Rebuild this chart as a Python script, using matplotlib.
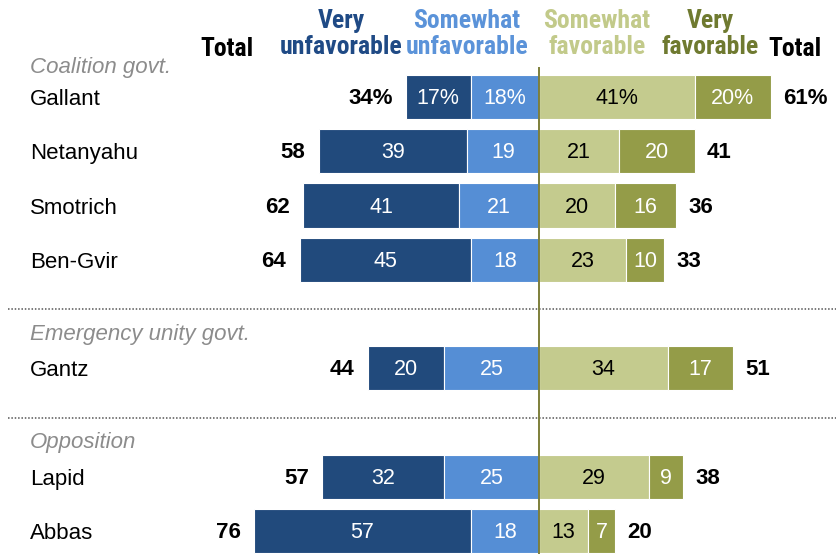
import matplotlib
matplotlib.use('Agg')
import matplotlib.pyplot as plt

# favorability of Israeli leaders, percent
names = ['Gallant', 'Netanyahu', 'Smotrich', 'Ben-Gvir', 'Gantz', 'Lapid', 'Abbas']
row_pos = [0, 1, 2, 3, 5, 7, 8]
very_unfav = [17, 39, 41, 45, 20, 32, 57]
some_unfav = [18, 19, 21, 18, 25, 25, 18]
some_fav = [41, 21, 20, 23, 34, 29, 13]
very_fav = [20, 20, 16, 10, 17, 9, 7]
total_unfav = [34, 58, 62, 64, 44, 57, 76]
total_fav = [61, 41, 36, 33, 51, 38, 20]

groups = ['Coalition govt.', 'Emergency unity govt.', 'Opposition']
group_pos = [-0.55, 4.38, 6.37]
divider_pos = [3.9, 5.92]

headers = ['Very\nunfavorable', 'Somewhat\nunfavorable', 'Somewhat\nfavorable', 'Very\nfavorable']
header_x = [-52, -19, 15.2, 45]

c_vu = '#214a7c'
c_su = '#558ed5'
c_sf = '#c4cb8e'
c_vf = '#949c48'
head_cols = ['#1f4a85', '#5b93d9', '#c2ca8a', '#6f7a30']

FONT = ['Liberation Sans', 'DejaVu Sans']
HEAD = ['Roboto Condensed', 'Liberation Sans', 'DejaVu Sans']

fig = plt.figure(figsize=(8.37, 5.54), dpi=100)
ax = fig.add_axes([0, 0, 1, 1])
px = 3.8  # pixels per percentage point
ax.set_xlim(-539 / px, (837 - 539) / px)
ax.set_ylim((554 - 97) / 54.25, -97 / 54.25)
ax.axis('off')

h = 0.82
for i, y in enumerate(row_pos):
    vu, su, sf, vf = very_unfav[i], some_unfav[i], some_fav[i], very_fav[i]
    ax.barh(y, -vu, left=-su, height=h, color=c_vu, edgecolor='white', linewidth=0.8)
    ax.barh(y, -su, left=0, height=h, color=c_su, edgecolor='white', linewidth=0.8)
    ax.barh(y, sf, left=0, height=h, color=c_sf, edgecolor='white', linewidth=0.8)
    ax.barh(y, vf, left=sf, height=h, color=c_vf, edgecolor='white', linewidth=0.8)

    pct = '%' if i == 0 else ''
    ty = y + 0.03
    ax.text(-su - vu / 2, ty, f'{vu}{pct}', ha='center', va='center', color='white', fontsize=15.5, family=FONT)
    ax.text(-su / 2, ty, f'{su}{pct}', ha='center', va='center', color='white', fontsize=15.5, family=FONT)
    ax.text(sf / 2, ty, f'{sf}{pct}', ha='center', va='center', color='black', fontsize=15.5, family=FONT)
    ax.text(sf + vf / 2, ty, f'{vf}{pct}', ha='center', va='center', color='white', fontsize=15.5, family=FONT)

    ax.text(-(vu + su) - 3.5, ty, f'{total_unfav[i]}{pct}', ha='right', va='center',
            fontsize=16, fontweight='bold', family=FONT)
    ax.text(sf + vf + 3.2, ty, f'{total_fav[i]}{pct}', ha='left', va='center',
            fontsize=16, fontweight='bold', family=FONT)

    ax.text(-134, y + 0.05, names[i], ha='left', va='center', fontsize=16, family=FONT)

for g, gy in zip(groups, group_pos):
    ax.text(-134, gy, g, ha='left', va='center', fontsize=16, style='italic', color='#8c8c8c', family=FONT)

for dy in divider_pos:
    ax.plot([-139.7, 80], [dy, dy], color='#555555', linestyle=(0, (1, 1.2)), linewidth=1.1)

# center line
ax.plot([0, 0], [-0.54, 9], color='#7d7f3a', linewidth=1.4)

for lab, hx, hc in zip(headers, header_x, head_cols):
    ax.text(hx, -1.16, lab, ha='center', va='center', fontsize=18.5, fontweight='bold',
            color=hc, family=HEAD, linespacing=1.12)
ax.text(-82, -0.88, 'Total', ha='center', va='center', fontsize=18.5, fontweight='bold', family=HEAD)
ax.text(67.4, -0.88, 'Total', ha='center', va='center', fontsize=18.5, fontweight='bold', family=HEAD)

fig.savefig('out.png', dpi=100)
